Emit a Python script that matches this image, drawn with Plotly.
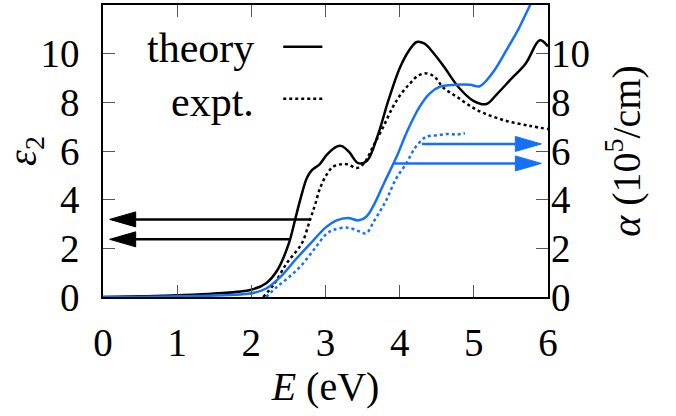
import plotly.graph_objects as go

# ---------------- data ----------------
E_theory = [0, 0.5, 1.0, 1.5, 2.0, 2.2, 2.35, 2.5, 2.6, 2.66, 2.75, 2.82, 2.92, 3.02, 3.15, 3.22, 3.32, 3.44, 3.56,
            3.7, 3.85, 4.0, 4.12, 4.23, 4.33, 4.45, 4.6, 4.8, 5.0, 5.17, 5.3, 5.5, 5.7, 5.89, 6.0]
eps_theory = [0, 0.03, 0.07, 0.14, 0.3, 0.57, 1.1, 2.15, 3.3, 4.0, 4.9, 5.22, 5.45, 5.85, 6.18, 6.2, 5.95, 5.5, 5.6,
              6.6, 8.1, 9.4, 10.1, 10.48, 10.42, 10.05, 9.45, 8.6, 8.05, 7.93, 8.3, 8.95, 9.6, 10.55, 10.3]

E_expt = [2.16, 2.3, 2.48, 2.68, 2.79, 2.86, 2.93, 3.02, 3.1, 3.2, 3.3, 3.42, 3.52, 3.64, 3.78, 3.91, 4.02, 4.14,
          4.25, 4.36, 4.47, 4.59, 4.77, 5.04, 5.4, 5.76, 6.0]
eps_expt = [0.0, 0.5, 1.4, 2.2, 3.16, 3.8, 4.5, 5.05, 5.35, 5.45, 5.45, 5.3, 5.5, 6.18, 7.0, 7.82, 8.35, 8.78,
            9.1, 9.19, 9.05, 8.6, 8.23, 7.69, 7.27, 7.03, 6.9]

E_alpha_theory = [0, 1.0, 2.0, 2.2, 2.4, 2.6, 2.84, 3.0, 3.15, 3.3, 3.45, 3.55, 3.64, 3.8, 3.96, 4.1, 4.27, 4.4,
                  4.54, 4.75, 4.95, 5.08, 5.25, 5.44, 5.6, 5.76, 5.9]
alpha_theory = [0, 0.03, 0.15, 0.35, 0.85, 1.55, 2.34, 2.85, 3.15, 3.25, 3.15, 3.3, 3.71, 4.75, 5.77, 6.8, 7.82, 8.35,
                8.64, 8.72, 8.72, 8.66, 9.2, 10.15, 11.0, 12.0, 12.8]

E_alpha_expt = [2.2, 2.34, 2.5, 2.66, 2.84, 3.0, 3.1, 3.3, 3.45, 3.55, 3.65, 3.75, 3.82, 3.95, 4.09, 4.2, 4.3,
                4.36, 4.5, 4.65, 4.78, 4.88]
alpha_expt = [0.0, 0.4, 0.8, 1.25, 1.93, 2.55, 2.75, 2.85, 2.7, 2.62, 3.1, 3.6, 3.98, 4.85, 5.49, 6.1, 6.45,
              6.59, 6.65, 6.7, 6.68, 6.73]

# axis-indicator arrows: (y level, start E, tip E)
left_arrow_y = [3.19, 2.37]
left_arrow_start = [2.79, 2.52]
left_arrow_tip = [0.09, 0.09]
right_arrow_y = [6.29, 5.49]
right_arrow_start = [4.30, 3.91]
right_arrow_tip = [5.91, 5.91]

x_ticks = [0, 1, 2, 3, 4, 5, 6]
y_ticks = [0, 2, 4, 6, 8, 10]

# ---------------- styling ----------------
BLACK = "#000000"
BLUE = "#1670f7"
FONT = "Liberation Serif"
W, H = 676, 416
ML, MR, MT, MB = 103, 128, 5, 119
XR = [0, 6]
YR = [0, 12]
px_per_x = (W - ML - MR) / (XR[1] - XR[0])
px_per_y = (H - MT - MB) / (YR[1] - YR[0])

fig = go.Figure()

fig.add_trace(go.Scatter(x=E_theory, y=eps_theory, mode="lines", line=dict(color=BLACK, width=2.5, shape="spline"),
                         showlegend=False))
fig.add_trace(go.Scatter(x=E_expt, y=eps_expt, mode="lines", line=dict(color=BLACK, width=2.5, dash="dot", shape="spline"),
                         showlegend=False))
fig.add_trace(go.Scatter(x=E_alpha_theory, y=alpha_theory, mode="lines", yaxis="y2",
                         line=dict(color=BLUE, width=2.5, shape="spline"), showlegend=False))
fig.add_trace(go.Scatter(x=E_alpha_expt, y=alpha_expt, mode="lines", yaxis="y2",
                         line=dict(color=BLUE, width=2.5, dash="dot", shape="spline"), showlegend=False))

HEAD_LEN = 26 / px_per_x
HEAD_HALF = 7.5 / px_per_y


def add_arrow(y, x0, x1, color, yaxis):
    d = 1 if x1 > x0 else -1
    base = x1 - d * HEAD_LEN
    fig.add_trace(go.Scatter(x=[x0, base], y=[y, y], mode="lines", yaxis=yaxis,
                             line=dict(color=color, width=2.5), showlegend=False, hoverinfo="skip"))
    fig.add_trace(go.Scatter(x=[base, x1, base, base], y=[y + HEAD_HALF, y, y - HEAD_HALF, y + HEAD_HALF],
                             mode="lines", fill="toself", fillcolor=color, yaxis=yaxis,
                             line=dict(color=color, width=1), showlegend=False, hoverinfo="skip"))


for yv, xs, xt in zip(left_arrow_y, left_arrow_start, left_arrow_tip):
    add_arrow(yv, xs, xt, BLACK, "y")
for yv, xs, xt in zip(right_arrow_y, right_arrow_start, right_arrow_tip):
    add_arrow(yv, xs, xt, BLUE, "y2")

# legend (gnuplot style: text, then sample)
fig.add_annotation(x=0.343, y=0.852, xref="paper", yref="paper", text="theory", showarrow=False,
                   xanchor="right", yanchor="middle", font=dict(family=FONT, size=42, color=BLACK))
fig.add_annotation(x=0.343, y=0.668, xref="paper", yref="paper", text="expt.", showarrow=False,
                   xanchor="right", yanchor="middle", font=dict(family=FONT, size=42, color=BLACK))
fig.add_shape(type="line", xref="paper", yref="paper", x0=0.405, x1=0.493, y0=0.857, y1=0.857,
              line=dict(color=BLACK, width=2.5))
fig.add_shape(type="line", xref="paper", yref="paper", x0=0.405, x1=0.493, y0=0.679, y1=0.679,
              line=dict(color=BLACK, width=2.5, dash="dot"))

tickfont = dict(family=FONT, size=39, color=BLACK)
fig.update_layout(
    width=W, height=H,
    margin=dict(l=ML, r=MR, t=MT, b=MB),
    paper_bgcolor="white", plot_bgcolor="white",
    font=dict(family=FONT, color=BLACK),
    xaxis=dict(range=XR, tickvals=x_ticks, ticks="inside", ticklen=12, tickwidth=1, tickcolor="#555",
               showline=True, linecolor=BLACK, linewidth=1.5, mirror="ticks", showgrid=False, zeroline=False,
               tickfont=tickfont, ticklabelstandoff=10, automargin=False,
               title=dict(text="<i>E</i> (eV)", font=dict(family=FONT, size=40), standoff=2)),
    yaxis=dict(range=YR, tickvals=y_ticks, ticks="inside", ticklen=12, tickwidth=1, tickcolor="#555",
               showline=True, linecolor=BLACK, linewidth=1.5, mirror=True, showgrid=False, zeroline=False,
               tickfont=tickfont, ticklabelstandoff=14, automargin=False,
               title=dict(text="<i>ε</i><sub>2</sub>", font=dict(family=FONT, size=40), standoff=10)),
    yaxis2=dict(range=YR, tickvals=y_ticks, ticks="inside", ticklen=12, tickwidth=1, tickcolor="#555",
                overlaying="y", side="right", showline=False, showgrid=False, zeroline=False,
                tickfont=tickfont, ticklabelstandoff=2, automargin=False,
                title=dict(text="<i>α</i> (10<sup>5</sup>/cm)", font=dict(family=FONT, size=40), standoff=22)),
)

fig.write_html("out.html", config={"displayModeBar": False},
               post_script="document.body.style.margin='0';document.body.style.padding='0';")
